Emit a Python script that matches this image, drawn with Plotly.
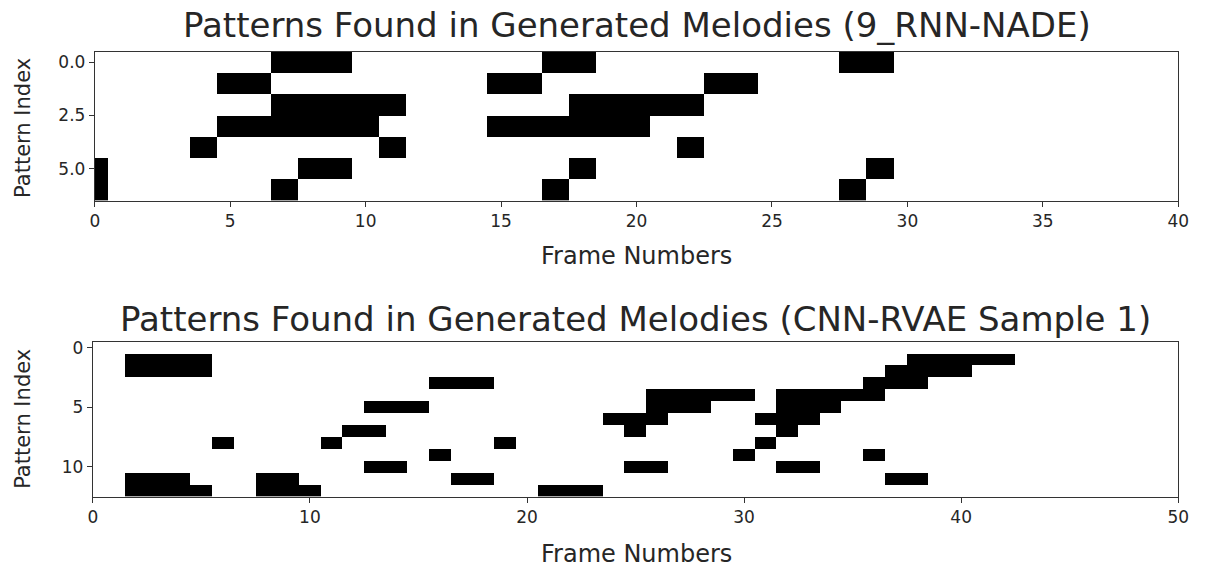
import plotly.graph_objects as go

# ---- Data (active frames per pattern row) ----
top_title = "Patterns Found in Generated Melodies (9_RNN-NADE)"
top_n_frames = 40
top_rows = [
    [7, 8, 9, 17, 18, 28, 29],
    [5, 6, 15, 16, 23, 24],
    [7, 8, 9, 10, 11, 18, 19, 20, 21, 22],
    [5, 6, 7, 8, 9, 10, 15, 16, 17, 18, 19, 20],
    [4, 11, 22],
    [0, 8, 9, 18, 29],
    [0, 7, 17, 28],
]
top_yticks = [0, 2.5, 5]
top_yticklabels = ["0.0", "2.5", "5.0"]
top_xticks = [0, 5, 10, 15, 20, 25, 30, 35, 40]

bot_title = "Patterns Found in Generated Melodies (CNN-RVAE Sample 1)"
bot_n_frames = 50
bot_rows = [
    [],
    [2, 3, 4, 5, 38, 39, 40, 41, 42],
    [2, 3, 4, 5, 37, 38, 39, 40],
    [16, 17, 18, 36, 37, 38],
    [26, 27, 28, 29, 30, 32, 33, 34, 35, 36],
    [13, 14, 15, 26, 27, 28, 32, 33, 34],
    [24, 25, 26, 31, 32, 33],
    [12, 13, 25, 32],
    [6, 11, 19, 31],
    [16, 30, 36],
    [13, 14, 25, 26, 32, 33],
    [2, 3, 4, 8, 9, 17, 18, 37, 38],
    [2, 3, 4, 5, 8, 9, 10, 21, 22, 23],
]
bot_yticks = [0, 5, 10]
bot_yticklabels = ["0", "5", "10"]
bot_xticks = [0, 10, 20, 30, 40, 50]

x_label = "Frame Numbers"
y_label = "Pattern Index"


def to_matrix(rows, n):
    return [[1 if c in r else 0 for c in range(n)] for r in rows]


W, H = 1209, 575
FONT = "DejaVu Sans"
TXT = "#262626"

fig = go.Figure()
fig.add_trace(go.Heatmap(
    z=to_matrix(top_rows, top_n_frames),
    x=list(range(top_n_frames)), y=list(range(len(top_rows))),
    colorscale=[[0, "white"], [1, "black"]], zmin=0, zmax=1,
    showscale=False, xaxis="x", yaxis="y", hoverinfo="skip"))
fig.add_trace(go.Heatmap(
    z=to_matrix(bot_rows, bot_n_frames),
    x=list(range(bot_n_frames)), y=list(range(len(bot_rows))),
    colorscale=[[0, "white"], [1, "black"]], zmin=0, zmax=1,
    showscale=False, xaxis="x2", yaxis="y2", hoverinfo="skip"))


def px_x(p):
    return p / W


def px_y(p):
    return 1 - p / H


axis_common = dict(showline=True, mirror=True, linecolor="#333333", linewidth=1,
                   ticks="outside", ticklen=5, tickcolor="#333333", tickwidth=1,
                   showgrid=False, zeroline=False,
                   tickfont=dict(family=FONT, size=17, color=TXT))

fig.update_layout(
    width=W, height=H, margin=dict(l=0, r=0, t=0, b=0),
    paper_bgcolor="white", plot_bgcolor="white", showlegend=False,
    xaxis=dict(domain=[px_x(91), px_x(1189)], range=[0, top_n_frames],
               tickvals=top_xticks, anchor="y", **axis_common),
    yaxis=dict(domain=[px_y(198), px_y(48)], range=[len(top_rows) - 0.5, -0.5],
               tickvals=top_yticks, ticktext=top_yticklabels, anchor="x", **axis_common),
    xaxis2=dict(domain=[px_x(89), px_x(1189)], range=[0, bot_n_frames],
                tickvals=bot_xticks, anchor="y2", **axis_common),
    yaxis2=dict(domain=[px_y(496), px_y(340)], range=[len(bot_rows) - 0.5, -0.5],
                tickvals=bot_yticks, ticktext=bot_yticklabels, anchor="x2", **axis_common),
)

ann = []
ann.append(dict(text=top_title, x=px_x(640), y=px_y(21), xref="paper", yref="paper",
                showarrow=False, xanchor="center", yanchor="middle",
                font=dict(family=FONT, size=34, color=TXT)))
ann.append(dict(text=bot_title, x=px_x(639), y=px_y(317), xref="paper", yref="paper",
                showarrow=False, xanchor="center", yanchor="middle",
                font=dict(family=FONT, size=34, color=TXT)))
for yc in (254, 554):
    ann.append(dict(text=x_label, x=px_x(640), y=px_y(yc), xref="paper", yref="paper",
                    showarrow=False, xanchor="center", yanchor="middle",
                    font=dict(family=FONT, size=24, color=TXT)))
for yc in (125, 418):
    ann.append(dict(text=y_label, x=px_x(18), y=px_y(yc), xref="paper", yref="paper",
                    showarrow=False, xanchor="center", yanchor="middle", textangle=-90,
                    font=dict(family=FONT, size=21, color=TXT)))
fig.update_layout(annotations=ann)

fig.write_html("out.html")
